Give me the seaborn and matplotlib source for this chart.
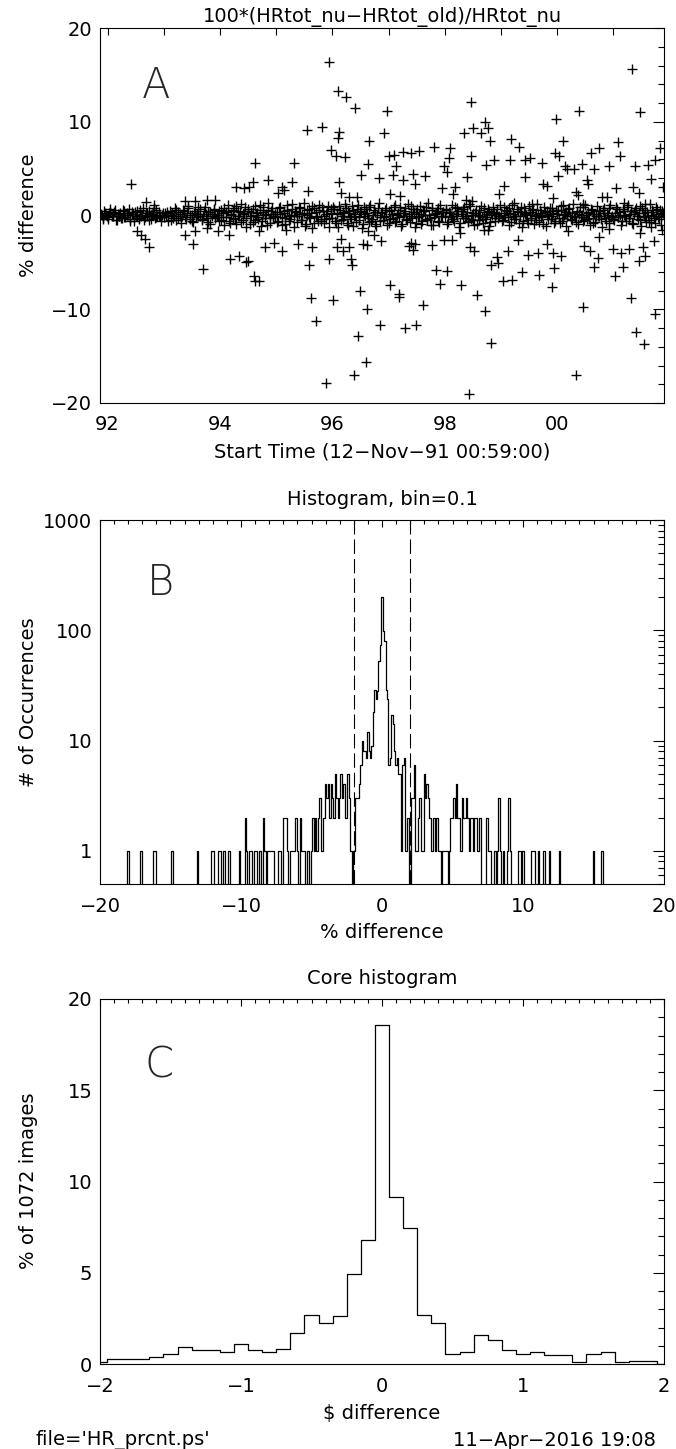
import numpy as np
import pandas as pd
import matplotlib
matplotlib.use("Agg")
import matplotlib.pyplot as plt
import seaborn as sns
from matplotlib.ticker import MultipleLocator, FixedLocator, FuncFormatter, LogLocator, NullFormatter

# ---------------- Panel A data (time in decimal years, % difference) ----------------
hi_t = [92.42, 95.94, 96.10, 96.24, 96.41, 95.54, 95.82, 96.12, 96.10, 95.98, 96.06, 96.22, 96.97, 96.91,
        96.66, 96.64, 96.51, 96.83, 97.07, 97.00, 97.10, 97.14, 97.26, 97.40, 97.54, 97.26, 97.43, 97.64,
        97.47, 97.03, 97.20, 96.11, 96.15, 96.29, 96.43, 95.31, 95.29, 95.11, 95.14, 95.04, 94.86, 94.63,
        94.58, 94.52, 94.42, 94.28, 95.56, 93.76, 93.56, 93.92, 93.37, 92.69, 92.83, 97.81, 98.09, 97.99,
        98.08, 98.04, 97.95, 98.18, 98.15, 98.47, 98.35, 98.51, 98.64, 98.71, 98.76, 98.80, 98.46, 98.73,
        98.87, 98.40, 98.37, 98.49, 98.96, 99.06, 99.18, 99.32, 99.16, 99.43, 99.51, 99.42, 99.73, 99.74,
        99.81, 99.92, 99.97, 99.96, 100.03, 100.10, 100.02, 100.13, 100.17, 100.29, 100.39, 100.44, 100.34,
        100.37, 100.55, 100.53, 100.60, 100.65, 100.75, 100.93, 101.08, 101.12, 101.05, 101.33, 101.48,
        101.38, 101.34, 101.45, 101.62, 101.67, 101.74, 101.82, 101.88, 100.79, 100.89, 101.19, 100.46,
        100.10, 99.56, 99.24, 101.57]
hi_y = [3.4, 16.4, 13.3, 12.6, 11.5, 9.1, 9.4, 8.9, 8.3, 7.0, 6.4, 6.2, 11.1, 8.8,
        7.9, 5.5, 4.3, 4.0, 4.3, 6.4, 6.5, 5.3, 6.8, 6.7, 6.9, 3.8, 4.4, 4.2,
        3.4, 2.3, 2.1, 3.6, 2.4, 2.0, 2.0, 5.6, 3.6, 3.0, 2.7, 2.4, 3.8, 5.6,
        3.6, 3.0, 2.9, 3.0, 2.6, 1.7, 1.5, 1.7, 1.5, 1.4, 1.1, 7.3, 7.2, 5.3,
        6.1, 4.6, 2.9, 3.0, 2.3, 12.1, 8.8, 9.3, 8.8, 10.0, 9.3, 7.9, 6.4, 5.4,
        5.9, 4.1, 1.7, 1.6, 2.3, 3.1, 8.2, 7.3, 5.9, 5.9, 6.1, 4.1, 5.6, 3.4,
        3.1, 1.9, 10.3, 6.7, 6.3, 8.0, 4.2, 5.3, 5.0, 5.0, 11.2, 5.5, 2.5,
        2.2, 3.4, 3.8, 6.7, 5.0, 7.2, 5.3, 7.8, 6.4, 2.9, 15.6, 11.0,
        5.3, 3.0, 2.4, 5.4, 3.9, 5.9, 7.2, 3.0, 2.0, 2.0, 1.3, 1.2,
        1.1, 1.2, 1.3, 1.2]

lo_t = [92.52, 92.59, 92.66, 92.73, 93.37, 93.52, 93.56, 93.70, 93.76, 93.97, 94.16, 94.18, 94.34, 94.46,
        94.49, 94.60, 94.63, 94.70, 94.70, 94.80, 94.96, 95.11, 95.18, 95.38, 95.59, 95.62, 95.70, 95.63,
        95.94, 96.01, 95.88, 96.08, 96.16, 96.18, 96.29, 96.33, 96.34, 96.38, 96.46, 96.49, 96.59, 96.62,
        96.54, 96.61, 96.64, 96.74, 96.85, 96.86, 97.02, 97.18, 97.19, 97.29, 97.48, 97.61, 97.36, 97.43,
        97.40, 97.47, 97.78, 97.85, 97.92, 98.04, 97.99, 98.13, 98.29, 98.27, 98.43, 98.44, 98.52, 98.58,
        98.72, 98.82, 98.70, 98.76, 98.82, 98.93, 98.94, 99.03, 99.13, 99.20, 99.30, 99.37, 99.48, 99.65,
        99.67, 99.82, 99.90, 99.92, 99.94, 100.06, 100.19, 100.34, 100.46, 100.48, 100.58, 100.66, 100.72,
        100.75, 100.93, 100.99, 101.03, 101.13, 101.17, 101.27, 101.32, 101.41, 101.45, 101.48, 101.54,
        101.57, 101.53, 101.67, 101.72, 101.74, 101.86]
lo_y = [-1.7, -2.1, -2.5, -3.4, -2.1, -3.0, -1.7, -5.7, -1.3, -1.7, -2.1, -4.6, -4.3, -5.0,
        -4.8, -6.5, -7.0, -7.0, -1.7, -3.4, -2.9, -3.8, -1.5, -3.0, -5.3, -8.8, -11.2, -3.4,
        -4.6, -9.0, -17.9, -3.4, -2.5, -3.8, -3.4, -4.6, -5.3, -17.0, -12.8, -8.0, -15.6, -10.0,
        -3.0, -3.1, -1.7, -2.1, -11.7, -2.7, -7.4, -8.4, -8.7, -12.0, -11.7, -9.5, -3.2, -3.7,
        -2.9, -3.0, -3.1, -5.8, -7.3, -5.9, -2.6, -2.6, -7.4, -1.9, -19.0, -3.4, -3.8, -8.5,
        -10.2, -13.6, -1.5, -1.5, -5.3, -4.4, -5.1, -7.0, -3.8, -6.9, -2.6, -6.0, -4.2, -4.0,
        -6.3, -3.0, -7.6, -4.0, -5.6, -4.3, -1.7, -17.0, -9.8, -3.2, -3.8, -5.5, -4.5,
        -2.3, -1.4, -3.6, -6.4, -4.0, -5.5, -3.6, -8.8, -12.4, -4.8, -1.9, -13.7,
        -4.3, -3.4, -1.2, -2.7, -10.5, -1.5]

band_t = [91.88, 91.91, 91.93, 91.97, 92.00, 92.03, 92.05, 92.09, 92.12, 92.15, 92.18, 92.21, 92.24, 92.27,
          92.30, 92.34, 92.37, 92.40, 92.43, 92.46, 92.50, 92.53, 92.56, 92.60, 92.63, 92.66, 92.70, 92.73,
          92.77, 92.80, 92.84, 92.87, 92.91, 92.94, 92.98,
          93.01, 93.05, 93.08, 93.12, 93.15, 93.19, 93.22, 93.26, 93.29, 93.33, 93.36, 93.40, 93.43, 93.47,
          93.50, 93.54, 93.57, 93.61, 93.64, 93.68, 93.71, 93.75, 93.78, 93.82, 93.85, 93.89, 93.92, 93.96, 93.99,
          94.02, 94.05, 94.08, 94.11, 94.14, 94.17, 94.20, 94.23, 94.26, 94.29, 94.32, 94.35, 94.38, 94.41,
          94.44, 94.47, 94.50, 94.53, 94.56, 94.59, 94.62, 94.65, 94.68, 94.71, 94.74, 94.77, 94.80, 94.83,
          94.86, 94.89, 94.92, 94.95, 94.98,
          95.01, 95.04, 95.07, 95.10, 95.13, 95.16, 95.19, 95.22, 95.25, 95.28, 95.31, 95.34, 95.37, 95.40,
          95.43, 95.46, 95.49, 95.52, 95.55, 95.58, 95.61, 95.64, 95.67, 95.70, 95.73, 95.76, 95.79, 95.82,
          95.85, 95.88, 95.91, 95.94, 95.97,
          96.00, 96.03, 96.06, 96.09, 96.12, 96.15, 96.18, 96.21, 96.24, 96.27, 96.30, 96.33, 96.36, 96.39,
          96.42, 96.45, 96.48, 96.51, 96.54, 96.57, 96.60, 96.63, 96.66, 96.69, 96.72, 96.75, 96.78, 96.81,
          96.84, 96.87, 96.90, 96.93, 96.96,
          97.00, 97.03, 97.06, 97.09, 97.12, 97.15, 97.18, 97.21, 97.24, 97.27, 97.30, 97.33, 97.36, 97.39,
          97.42, 97.45, 97.48, 97.51, 97.54, 97.57, 97.60, 97.63, 97.66, 97.69, 97.72, 97.75, 97.78, 97.81,
          97.84, 97.87, 97.90, 97.93, 97.96,
          98.00, 98.03, 98.06, 98.09, 98.12, 98.15, 98.18, 98.21, 98.24, 98.27, 98.30, 98.33, 98.36, 98.39,
          98.42, 98.45, 98.48, 98.51, 98.54, 98.57, 98.60, 98.63, 98.66, 98.69, 98.72, 98.75, 98.78, 98.81,
          98.84, 98.87, 98.90, 98.93, 98.96,
          99.00, 99.03, 99.06, 99.09, 99.12, 99.15, 99.18, 99.21, 99.24, 99.27, 99.30, 99.33, 99.36, 99.39,
          99.42, 99.45, 99.48, 99.51, 99.54, 99.57, 99.60, 99.63, 99.66, 99.69, 99.72, 99.75, 99.78, 99.81,
          99.84, 99.87, 99.90, 99.93, 99.96,
          100.00, 100.03, 100.06, 100.09, 100.12, 100.15, 100.18, 100.21, 100.24, 100.27, 100.30, 100.33,
          100.36, 100.39, 100.42, 100.45, 100.48, 100.51, 100.54, 100.57, 100.60, 100.63, 100.66, 100.69,
          100.72, 100.75, 100.78, 100.81, 100.84, 100.87, 100.90, 100.93, 100.96,
          101.00, 101.03, 101.06, 101.09, 101.12, 101.15, 101.18, 101.21, 101.24, 101.27, 101.30, 101.33,
          101.36, 101.39, 101.42, 101.45, 101.48, 101.51, 101.54, 101.57, 101.60, 101.63, 101.66, 101.69,
          101.72, 101.75, 101.78, 101.81, 101.84, 101.87, 101.90]
band_y = [0.2, -0.3, 0.5, 0.1, -0.4, 0.3, 0.7, -0.1, 0.4, -0.5, 0.2, 0.0, -0.3, 0.6, -0.2, 0.3, 0.1, -0.6,
          0.4, 0.2, -0.1, 0.5, -0.4, 0.0, 0.8, -0.2, 0.3, -0.5, 0.1, 0.4, -0.3, 0.6, 0.0, -0.1, 0.3,
          -0.2, 0.4, 0.1, -0.5, 0.3, 0.0, 0.6, -0.3, 0.2, -0.1, 0.5, -0.4, 0.8, 0.1, -0.6, 0.3, -0.2, 0.9,
          0.0, -0.4, 0.5, 0.2, -0.7, 0.4, -0.1, 0.7, -0.3, 0.1, 0.5,
          -0.5, 0.3, 0.8, -0.2, 0.5, -0.8, 0.1, 0.6, -0.4, 1.0, -0.1, 0.4, -0.7, 0.2, 0.9, -0.3, 0.5, -0.9,
          0.0, 0.7, -0.5, 0.3, -0.2, 1.1, -0.6, 0.4, 0.1, -1.0, 0.6, -0.3, 0.8, -0.1, 0.2,
          0.4, -0.6, 0.9, -0.2, 0.3, -0.9, 0.6, 0.0, -0.4, 1.2, -0.1, 0.5, -0.7, 0.2, 0.8, -0.5, 0.3, -1.1,
          0.1, 0.7, -0.3, 1.0, -0.8, 0.4, -0.2, 0.6, -0.6, 0.9, 0.0, -0.4, 0.5, -1.2, 0.3,
          -0.3, 0.7, -0.8, 0.2, 1.0, -0.5, 0.4, -0.1, 0.8, -1.0, 0.3, -0.4, 0.6, 0.0, -0.7, 1.1, -0.2, 0.5,
          -0.9, 0.2, 0.7, -0.3, 0.9, -0.6, 0.1, 0.4, -1.1, 0.8, -0.2, 0.3, -0.5, 0.6, 0.0,
          0.5, -0.4, 0.2, 0.9, -0.7, 0.1, -0.2, 0.6, -0.9, 0.3, 0.8, -0.5, 0.0, 1.0, -0.3, 0.4, -0.8, 0.7,
          -0.1, 0.2, -0.6, 0.5, 0.9, -0.4, 0.1, -1.0, 0.6, -0.2, 0.3, 0.8, -0.7, 0.0, 0.4,
          -0.2, 0.6, -0.7, 0.3, 0.0, -0.4, 0.9, -0.1, 0.5, -0.8, 0.2, 0.7, -0.3, 0.4, -0.6, 1.0, 0.1, -0.5,
          0.3, -0.9, 0.6, 0.0, -0.2, 0.8, -0.4, 0.2, 0.5, -0.7, 0.1, 0.4, -0.3, 0.7, -0.1,
          0.3, -0.5, 0.1, 0.6, -0.2, 0.8, -0.7, 0.2, 0.0, -0.4, 0.5, -0.1, 0.9, -0.6, 0.3, 0.1, -0.8, 0.4,
          -0.3, 0.7, 0.0, -0.5, 0.2, 0.6, -0.2, -0.9, 0.4, 0.1, -0.4, 0.8, -0.1, 0.3, -0.6,
          0.2, -0.3, 0.6, -0.6, 0.1, 0.4, -0.1, 0.8, -0.4, 0.3, 0.0, -0.7, 0.5, 0.2, -0.2, 0.9, -0.5, 0.1,
          0.4, -0.3, 0.7, -0.8, 0.2, 0.0, -0.1, 0.5, -0.4, 0.6, 0.3, -0.6, 0.1, 0.8, -0.2,
          -0.4, 0.3, 0.7, -0.2, 0.1, -0.6, 0.5, 0.0, 0.9, -0.3, 0.2, -0.8, 0.4, 0.6, -0.1, 0.3, -0.5, 0.8,
          0.0, -0.2, 0.4, -0.7, 0.1, 0.6, -0.3, 0.2, 0.7, -0.4, 0.0, 0.5, 0.3]

band2_t = [91.895, 91.925, 91.955, 91.985,
           92.015, 92.045, 92.075, 92.105, 92.135, 92.165, 92.195, 92.225, 92.255, 92.285, 92.315,
           92.345, 92.375, 92.405, 92.435, 92.465, 92.495, 92.525, 92.555, 92.585, 92.615, 92.645,
           92.675, 92.705, 92.735, 92.765, 92.795, 92.825, 92.855, 92.885, 92.915, 92.945, 92.975,
           93.015, 93.045, 93.075, 93.105, 93.135, 93.165, 93.195, 93.225, 93.255, 93.285, 93.315,
           93.345, 93.375, 93.405, 93.435, 93.465, 93.495, 93.525, 93.555, 93.585, 93.615, 93.645,
           93.675, 93.705, 93.735, 93.765, 93.795, 93.825, 93.855, 93.885, 93.915, 93.945, 93.975,
           94.015, 94.045, 94.075, 94.105, 94.135, 94.165, 94.195, 94.225, 94.255, 94.285, 94.315,
           94.345, 94.375, 94.405, 94.435, 94.465, 94.495, 94.525, 94.555, 94.585, 94.615, 94.645,
           94.675, 94.705, 94.735, 94.765, 94.795, 94.825, 94.855, 94.885, 94.915, 94.945, 94.975,
           95.015, 95.045, 95.075, 95.105, 95.135, 95.165, 95.195, 95.225, 95.255, 95.285, 95.315,
           95.345, 95.375, 95.405, 95.435, 95.465, 95.495, 95.525, 95.555, 95.585, 95.615, 95.645,
           95.675, 95.705, 95.735, 95.765, 95.795, 95.825, 95.855, 95.885, 95.915, 95.945, 95.975,
           96.015, 96.045, 96.075, 96.105, 96.135, 96.165, 96.195, 96.225, 96.255, 96.285, 96.315,
           96.345, 96.375, 96.405, 96.435, 96.465, 96.495, 96.525, 96.555, 96.585, 96.615, 96.645,
           96.675, 96.705, 96.735, 96.765, 96.795, 96.825, 96.855, 96.885, 96.915, 96.945, 96.975,
           97.015, 97.045, 97.075, 97.105, 97.135, 97.165, 97.195, 97.225, 97.255, 97.285, 97.315,
           97.345, 97.375, 97.405, 97.435, 97.465, 97.495, 97.525, 97.555, 97.585, 97.615, 97.645,
           97.675, 97.705, 97.735, 97.765, 97.795, 97.825, 97.855, 97.885, 97.915, 97.945, 97.975,
           98.015, 98.045, 98.075, 98.105, 98.135, 98.165, 98.195, 98.225, 98.255, 98.285, 98.315,
           98.345, 98.375, 98.405, 98.435, 98.465, 98.495, 98.525, 98.555, 98.585, 98.615, 98.645,
           98.675, 98.705, 98.735, 98.765, 98.795, 98.825, 98.855, 98.885, 98.915, 98.945, 98.975,
           99.015, 99.045, 99.075, 99.105, 99.135, 99.165, 99.195, 99.225, 99.255, 99.285, 99.315,
           99.345, 99.375, 99.405, 99.435, 99.465, 99.495, 99.525, 99.555, 99.585, 99.615, 99.645,
           99.675, 99.705, 99.735, 99.765, 99.795, 99.825, 99.855, 99.885, 99.915, 99.945, 99.975,
           100.015, 100.045, 100.075, 100.105, 100.135, 100.165, 100.195, 100.225, 100.255, 100.285,
           100.315, 100.345, 100.375, 100.405, 100.435, 100.465, 100.495, 100.525, 100.555, 100.585,
           100.615, 100.645, 100.675, 100.705, 100.735, 100.765, 100.795, 100.825, 100.855, 100.885,
           100.915, 100.945, 100.975,
           101.015, 101.045, 101.075, 101.105, 101.135, 101.165, 101.195, 101.225, 101.255, 101.285,
           101.315, 101.345, 101.375, 101.405, 101.435, 101.465, 101.495, 101.525, 101.555, 101.585,
           101.615, 101.645, 101.675, 101.705, 101.735, 101.765, 101.795, 101.825, 101.855, 101.885]
band2_y = [0.1, -0.4, 0.3, -0.1,
           -0.2, 0.4, -0.1, 0.2, 0.6, -0.5, 0.0, 0.3, -0.3, 0.5, -0.2, 0.1, 0.7, -0.4, 0.2, -0.6, 0.4,
           0.0, -0.3, 0.6, 0.1, -0.5, 0.3, -0.1, 0.5, -0.4, 0.2, 0.8, -0.2, 0.0, 0.4, -0.6, 0.1,
           0.3, -0.1, -0.6, 0.5, 0.1, -0.3, 0.8, -0.5, 0.4, 0.0, -0.8, 0.6, -0.2, 0.3, 1.0, -0.4, 0.1,
           -0.7, 0.5, 0.2, -0.1, 0.7, -0.5, 0.0, 0.9, -0.3, 0.4, -0.9, 0.2, 0.6, -0.2, 0.1, -0.6,
           0.6, -0.2, -1.0, 0.4, 1.1, -0.6, 0.2, -0.3, 0.8, -0.9, 0.5, 0.0, 1.2, -0.5, 0.3, -1.2, 0.7,
           -0.1, 0.4, -0.7, 1.0, 0.1, -0.4, 0.6, -1.1, 0.9, -0.3, 0.2, 1.3, -0.8, 0.5, -0.2, 0.0,
           -0.7, 0.8, 0.2, -1.0, 0.5, -0.3, 1.1, -0.6, 0.1, 0.7, -1.2, 0.4, -0.1, 0.9, -0.5, 0.2, 1.3,
           -0.9, 0.6, -0.2, 0.3, -1.3, 0.8, 0.0, -0.6, 1.1, -0.4, 0.5, -0.8, 0.2, 1.0, -0.3, 0.7,
           0.9, -0.6, 0.3, -1.2, 0.6, 0.0, -0.4, 1.2, -0.8, 0.5, -0.2, 1.0, -1.1, 0.2, 0.7, -0.5, 0.4,
           -1.3, 0.9, -0.1, 0.3, -0.7, 1.1, -0.4, 0.6, -0.9, 0.1, 1.3, -0.6, 0.4, -0.2, 0.8, -1.0,
           -0.8, 0.6, -0.3, 1.1, -0.6, 0.3, 0.9, -1.1, 0.0, 0.5, -0.4, 1.2, -0.7, 0.2, 0.7, -1.2, 0.4,
           -0.2, 1.0, -0.9, 0.6, 0.1, -0.5, 1.3, -0.3, 0.8, -1.0, 0.2, 0.5, -0.6, 1.1, -0.1, 0.4,
           0.7, -0.9, 0.4, -0.1, 1.1, -0.6, 0.2, 0.8, -1.2, 0.5, -0.3, 0.9, 0.0, -0.7, 1.2, -0.4, 0.3,
           -1.0, 0.6, 0.1, -0.5, 1.0, -0.8, 0.4, -0.2, 0.7, -1.1, 0.3, 0.9, -0.6, 0.2, -0.3, 1.1,
           -0.6, 0.9, -0.2, 0.5, -1.0, 0.3, 1.1, -0.4, 0.0, 0.7, -0.8, 0.4, -1.2, 0.8, 0.2, -0.5, 1.0,
           -0.3, 0.6, -0.9, 0.1, 1.2, -0.7, 0.3, -0.1, 0.9, -1.1, 0.5, 0.2, -0.4, 0.8, -0.8, 0.6,
           0.5, -0.8, 1.0, -0.3, 0.2, -1.1, 0.7, 0.0, -0.5, 1.2, -0.2, 0.4, -0.9, 0.9, 0.1, -0.6, 1.1,
           -0.4, 0.3, -1.0, 0.6, 0.2, -0.7, 1.0, -0.1, 0.5, -1.2, 0.8, -0.3, 0.3, -0.8, 1.1, 0.0,
           -0.5, 0.9, -0.2, 0.4, -1.0, 0.7, 0.1, -0.6, 1.1, -0.3, 0.5, -0.9, 0.2, 0.8, -0.4, 1.0,
           -1.1, 0.3, 0.6, -0.7, 0.0, 1.2, -0.5, 0.4, -0.8, 0.9, -0.2, 0.6, -1.0, 0.3]

# ---------------- Histogram data (bin = 0.1 %, counts of 1072 images) ----------------
hist_x = [-18.0, -17.1, -16.2, -16.1, -14.9, -13.1, -12.1, -12.0, -11.6, -11.5, -11.2, -10.9, -10.8, -10.1,
          -9.7, -9.6, -9.4, -9.3, -9.0, -8.9, -8.7, -8.6, -8.4, -8.3, -8.1, -8.0, -7.9, -7.8, -7.7,
          -7.3, -7.2, -7.0, -6.9, -6.8, -6.7, -6.5, -6.4, -6.3, -6.2, -6.1, -6.0, -5.8, -5.7, -5.6,
          -5.5, -5.3, -5.2, -5.0, -4.9, -4.8, -4.7, -4.6, -4.5, -4.4, -4.3, -4.2, -4.1, -4.0, -3.9,
          -3.8, -3.7, -3.6, -3.5, -3.4, -3.3, -3.2, -3.1, -3.0, -2.9, -2.8, -2.7, -2.6, -2.5, -2.4,
          -2.3, -2.2,
          -2.0, -1.9, -1.8, -1.7, -1.6, -1.5, -1.4, -1.3, -1.2, -1.1, -1.0, -0.9, -0.8, -0.7, -0.6,
          -0.5, -0.4, -0.3, -0.2, -0.1, 0.0, 0.1, 0.2, 0.3, 0.4, 0.5, 0.6, 0.7, 0.8, 0.9, 1.0, 1.1,
          1.2, 1.3, 1.4, 1.5, 1.6, 1.7, 1.8, 1.9,
          2.1, 2.2, 2.3, 2.4, 2.5, 2.6, 2.7, 2.8, 2.9, 3.0, 3.1, 3.2, 3.3, 3.4, 3.5, 3.6, 3.7, 3.8,
          3.9, 4.0, 4.1, 4.3, 4.4, 4.5, 4.6, 4.8, 4.9, 5.0, 5.1, 5.2, 5.3, 5.4, 5.5, 5.6, 5.7, 5.8,
          5.9, 6.0, 6.1, 6.2, 6.3, 6.4, 6.5, 6.6, 6.7, 6.8, 6.9, 7.0, 7.4, 7.5, 7.6, 7.7, 8.0, 8.2,
          8.3, 8.4, 8.6, 8.9, 9.0, 9.1, 9.7, 9.8, 10.0, 10.6, 10.7, 10.8, 11.1, 11.5, 11.9, 12.6,
          15.0, 15.6]
hist_n = [1, 1, 1, 1, 1, 1, 1, 1, 1, 1, 1, 1, 1, 1,
          2, 1, 1, 1, 1, 1, 1, 1, 2, 1, 1, 1, 1, 1, 1,
          1, 1, 2, 2, 2, 1, 1, 1, 1, 1, 2, 1, 2, 1, 1,
          1, 1, 1, 1, 2, 1, 2, 1, 2, 3, 1, 1, 2, 4, 3,
          4, 2, 4, 3, 2, 5, 3, 2, 3, 5, 3, 4, 2, 2, 5,
          3, 1,
          1, 3, 3, 3, 4, 6, 10, 8, 8, 7, 12, 8, 7, 9, 18,
          29, 24, 28, 53, 73, 199, 98, 80, 29, 24, 6, 7, 17, 14, 8, 6, 7,
          5, 5, 1, 6, 7, 1, 2, 2,
          3, 3, 6, 1, 1, 2, 3, 1, 1, 5, 3, 4, 3, 2, 1, 1, 2, 1,
          2, 1, 1, 1, 1, 1, 1, 1, 2, 2, 3, 2, 4, 2, 2, 1, 3, 2,
          2, 3, 2, 1, 2, 2, 1, 2, 2, 1, 2, 2, 2, 2, 1, 1, 1, 1,
          3, 1, 1, 1, 3, 1, 1, 1, 1, 1, 1, 1, 1, 1, 1, 1,
          1, 1]
n_images = 1072

# ---------------- figure ----------------
sns.set_theme(style="white")
plt.rcParams['font.family'] = ['DejaVu Sans']
plt.rcParams['axes.linewidth'] = 0.8
W, H = 676, 1449
fig = plt.figure(figsize=(W / 100, H / 100), dpi=100)
fig.patch.set_facecolor('white')

def ax_at(l, t, r, b):
    return fig.add_axes([l / W, 1 - b / H, (r - l) / W, (b - t) / H])

FS = 14
def px(x, y):
    return x / W, 1 - y / H

def minus_fmt(v, p):
    return ('%d' % round(v)).replace('-', '\u2212')

def style(ax, xlen, ylen):
    ax.set_facecolor('white')
    for s in ax.spines.values():
        s.set_color('black'); s.set_linewidth(0.8); s.set_visible(True)
    ax.tick_params(which='both', direction='in', top=True, right=True, colors='black',
                   width=0.8, labelsize=FS, labelcolor='black')
    ax.tick_params(axis='x', which='major', length=xlen, pad=9)
    ax.tick_params(axis='x', which='minor', length=xlen / 2)
    ax.tick_params(axis='y', which='major', length=ylen, pad=5.5)
    ax.tick_params(axis='y', which='minor', length=ylen / 2)
    ax.set_xlabel(''); ax.set_ylabel('')
    ax.grid(False)

# ---- Panel A ----
axA = ax_at(100, 28, 664, 403)
dfA = pd.DataFrame({'t': hi_t + lo_t + band_t + band2_t, 'pct': hi_y + lo_y + band_y + band2_y})
sns.scatterplot(data=dfA, x='t', y='pct', marker='+', color='black', s=60, linewidth=1.0, ax=axA)
axA.set_xlim(91.865, 101.9)
axA.set_ylim(-20, 20)
axA.xaxis.set_major_locator(MultipleLocator(1))
axA.xaxis.set_major_formatter(FuncFormatter(lambda v, p: ('%02d' % (int(round(v)) % 100)) if int(round(v)) % 2 == 0 else ''))
axA.yaxis.set_major_locator(MultipleLocator(10))
axA.yaxis.set_minor_locator(MultipleLocator(2))
axA.yaxis.set_major_formatter(FuncFormatter(minus_fmt))
style(axA, 5.3, 8.1)
axA.text(92.86, 13.9, 'A', fontsize=30, fontweight='light', ha='center', va='center')

# ---- Panel B ----
axB = ax_at(100, 520, 664, 884)
axB.set_yscale('log')
centers = np.round(np.arange(-181, 158) / 10.0, 1)
counts = np.zeros(len(centers))
idx = {c: i for i, c in enumerate(centers)}
for xv, nv in zip(hist_x, hist_n):
    counts[idx[round(xv, 1)]] = nv
plot_counts = np.where(counts > 0, counts, 0.01)
dfB = pd.DataFrame({'x': centers, 'n': plot_counts})
sns.lineplot(data=dfB, x='x', y='n', drawstyle='steps-mid', color='black', linewidth=0.9,
             estimator=None, sort=False, ax=axB)
for xv in (-2, 2):
    axB.axvline(xv, color='black', linewidth=0.8, dashes=(13, 4.5))
axB.set_xlim(-20, 20)
axB.set_ylim(0.5, 1000)
axB.xaxis.set_major_locator(MultipleLocator(10))
axB.xaxis.set_minor_locator(MultipleLocator(1))
axB.xaxis.set_major_formatter(FuncFormatter(minus_fmt))
axB.yaxis.set_major_locator(FixedLocator([1, 10, 100, 1000]))
axB.yaxis.set_major_formatter(FuncFormatter(lambda v, p: '%d' % v))
axB.yaxis.set_minor_locator(LogLocator(base=10, subs=np.arange(2, 10)))
axB.yaxis.set_minor_formatter(NullFormatter())
style(axB, 5.3, 8.1)
axB.text(-15.73, 272, 'B', fontsize=30, fontweight='light', ha='center', va='center')

# ---- Panel C ----
axC = ax_at(100, 999, 664, 1364)
core = [(xv, nv) for xv, nv in zip(hist_x, hist_n) if -2.0 <= xv <= 2.0]
core_x = [c[0] for c in core] + [2.0]
core_n = [c[1] for c in core] + [0]
order = np.argsort(core_x)
dfC = pd.DataFrame({'x': np.array(core_x)[order], 'pct': np.array(core_n)[order] / n_images * 100})
sns.lineplot(data=dfC, x='x', y='pct', drawstyle='steps-mid', color='black', linewidth=0.9,
             estimator=None, sort=False, ax=axC)
axC.set_xlim(-2, 2)
axC.set_ylim(0, 20)
axC.xaxis.set_major_locator(MultipleLocator(1))
axC.xaxis.set_minor_locator(MultipleLocator(0.1))
axC.yaxis.set_major_locator(MultipleLocator(5))
axC.yaxis.set_minor_locator(MultipleLocator(1))
axC.xaxis.set_major_formatter(FuncFormatter(minus_fmt))
axC.yaxis.set_major_formatter(FuncFormatter(minus_fmt))
style(axC, 5.3, 8.1)
axC.text(-1.58, 16.4, 'C', fontsize=30, fontweight='light', ha='center', va='center')

# ---- free text ----
def t(x, y, s, **kw):
    fig.text(*px(x, y), s, fontsize=FS, color='black', **kw)

t(382, 17, '100*(HRtot_nu\u2212HRtot_old)/HRtot_nu', ha='center', va='center')
t(382, 452, 'Start Time (12\u2212Nov\u221291 00:59:00)', ha='center', va='center')
t(28, 215, '% difference', ha='center', va='center', rotation=90)
t(382, 499, 'Histogram, bin=0.1', ha='center', va='center')
t(382, 933, '% difference', ha='center', va='center')
t(28, 702, '# of Occurrences', ha='center', va='center', rotation=90)
t(382, 978, 'Core histogram', ha='center', va='center')
t(382, 1413, '$ difference', ha='center', va='center')
t(28, 1181, '% of 1072 images', ha='center', va='center', rotation=90)
t(35, 1440, "file='HR_prcnt.ps'", ha='left', va='center')
t(656, 1440, '11\u2212Apr\u22122016 19:08', ha='right', va='center')

fig.savefig('out.png', dpi=100, facecolor='white')
